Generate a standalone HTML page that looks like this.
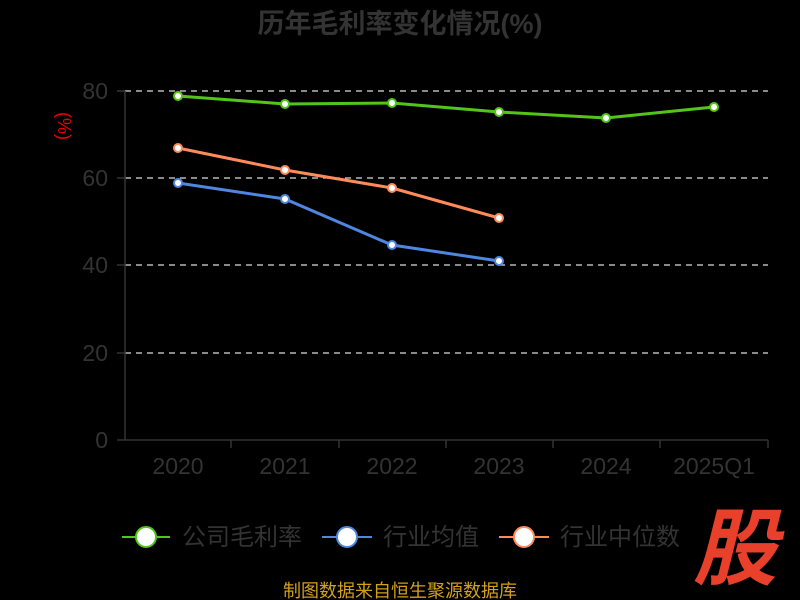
<!DOCTYPE html>
<html><head><meta charset="utf-8"><style>
html,body{margin:0;padding:0;background:#000;width:800px;height:600px;overflow:hidden}
svg text{font-family:"Liberation Sans","Noto Sans CJK SC",sans-serif}
</style></head><body>
<svg width="800" height="600" viewBox="0 0 800 600" xmlns="http://www.w3.org/2000/svg">
<rect width="800" height="600" fill="#000"/>
<text x="400" y="33" text-anchor="middle" font-size="27" font-weight="bold" fill="#333">历年毛利率变化情况(%)</text>
<text transform="translate(58,126) rotate(90)" text-anchor="middle" font-size="18" fill="#e00">(%)</text>
<g stroke="#ddd" stroke-width="1.3" stroke-dasharray="6,5">
<line x1="125" y1="91" x2="768" y2="91"/>
<line x1="125" y1="178" x2="768" y2="178"/>
<line x1="125" y1="265" x2="768" y2="265"/>
<line x1="125" y1="353" x2="768" y2="353"/>
</g>
<g stroke="#333" stroke-width="1.5">
<line x1="125" y1="91" x2="125" y2="440"/>
<line x1="125" y1="440" x2="768" y2="440"/>
<line x1="117" y1="91" x2="125" y2="91"/>
<line x1="117" y1="178" x2="125" y2="178"/>
<line x1="117" y1="265" x2="125" y2="265"/>
<line x1="117" y1="353" x2="125" y2="353"/>
<line x1="117" y1="440" x2="125" y2="440"/>
<line x1="231" y1="440" x2="231" y2="448"/>
<line x1="339" y1="440" x2="339" y2="448"/>
<line x1="446" y1="440" x2="446" y2="448"/>
<line x1="553" y1="440" x2="553" y2="448"/>
<line x1="660" y1="440" x2="660" y2="448"/>
<line x1="768" y1="440" x2="768" y2="448"/>
</g>
<g font-size="23" fill="#333" text-anchor="end">
<text x="108" y="99">80</text><text x="108" y="186">60</text><text x="108" y="273">40</text><text x="108" y="361">20</text><text x="108" y="448">0</text>
</g>
<g font-size="23" fill="#333" text-anchor="middle">
<text x="178" y="474">2020</text><text x="285" y="474">2021</text><text x="392" y="474">2022</text><text x="499" y="474">2023</text><text x="606" y="474">2024</text><text x="714" y="474">2025Q1</text>
</g>
<polyline points="178,96 285,104 392,103 499,112 606,118 714,107" fill="none" stroke="#52c41a" stroke-width="3"/>
<polyline points="178,183 285,199 392,245 499,261" fill="none" stroke="#4e86e0" stroke-width="3"/>
<polyline points="178,148 285,170 392,188 499,218" fill="none" stroke="#ff8a5a" stroke-width="3"/>
<g fill="#fff" stroke="#52c41a" stroke-width="2">
<circle cx="178" cy="96" r="4"/><circle cx="285" cy="104" r="4"/><circle cx="392" cy="103" r="4"/><circle cx="499" cy="112" r="4"/><circle cx="606" cy="118" r="4"/><circle cx="714" cy="107" r="4"/>
</g>
<g fill="#fff" stroke="#4e86e0" stroke-width="2">
<circle cx="178" cy="183" r="4"/><circle cx="285" cy="199" r="4"/><circle cx="392" cy="245" r="4"/><circle cx="499" cy="261" r="4"/>
</g>
<g fill="#fff" stroke="#ff8a5a" stroke-width="2">
<circle cx="178" cy="148" r="4"/><circle cx="285" cy="170" r="4"/><circle cx="392" cy="188" r="4"/><circle cx="499" cy="218" r="4"/>
</g>
<g font-size="24" fill="#333">
<line x1="122" y1="537" x2="170" y2="537" stroke="#52c41a" stroke-width="2"/>
<circle cx="146" cy="537" r="10" fill="#fff" stroke="#52c41a" stroke-width="2"/>
<text x="182" y="545">公司毛利率</text>
<line x1="322" y1="537" x2="372" y2="537" stroke="#4e86e0" stroke-width="2"/>
<circle cx="347" cy="537" r="10" fill="#fff" stroke="#4e86e0" stroke-width="2"/>
<text x="383" y="545">行业均值</text>
<line x1="499" y1="537" x2="549" y2="537" stroke="#ff8a5a" stroke-width="2"/>
<circle cx="524" cy="537" r="10" fill="#fff" stroke="#ff8a5a" stroke-width="2"/>
<text x="560" y="545">行业中位数</text>
</g>
<text x="735" y="578" text-anchor="middle" font-size="84" font-weight="bold" font-style="italic" fill="#e8402a">股</text>
<text x="400" y="597" text-anchor="middle" font-size="18" fill="#d4a017">制图数据来自恒生聚源数据库</text>
</svg>
</body></html>
